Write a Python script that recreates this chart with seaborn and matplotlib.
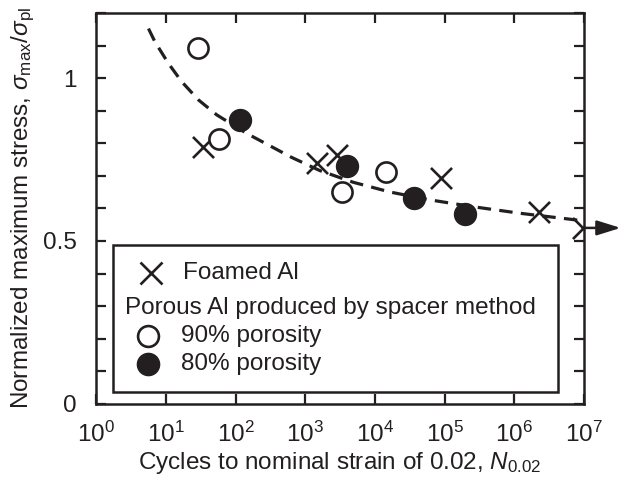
import numpy as np
import pandas as pd
import matplotlib
matplotlib.use("Agg")
import matplotlib.pyplot as plt
import seaborn as sns
from matplotlib.ticker import FixedLocator, MultipleLocator, LogLocator, NullLocator
from matplotlib.patches import Rectangle
from matplotlib.lines import Line2D

# data
foamed_n = [34, 1480, 2880, 89000, 2.28e6, 9.7e6]
foamed_s = [0.788, 0.739, 0.764, 0.693, 0.589, 0.540]

p90_n = [29, 58, 3390, 14500]
p90_s = [1.092, 0.813, 0.650, 0.712]

p80_n = [116, 3980, 36500, 196000]
p80_s = [0.871, 0.730, 0.632, 0.583]

# dashed trend curve
fit_n = [5.64, 7.0, 10.9, 16.9, 29.4, 53.8, 145, 282, 631, 1620, 4900, 16600, 61700,
         257000, 1.2e6, 5.6e6, 9.5e6]
fit_s = [1.152, 1.111, 1.045, 0.989, 0.933, 0.887, 0.830, 0.797, 0.757, 0.716, 0.680,
         0.650, 0.626, 0.605, 0.585, 0.568, 0.562]

sns.set_theme(style="white")
plt.rcParams['font.family'] = ['Liberation Sans', 'DejaVu Sans']
plt.rcParams['mathtext.fontset'] = 'custom'
plt.rcParams['mathtext.rm'] = 'Liberation Sans'
plt.rcParams['mathtext.it'] = 'Liberation Sans:italic'
plt.rcParams['mathtext.bf'] = 'Liberation Sans:bold'

ink = '#231f20'
fs = 17.5
fig = plt.figure(figsize=(6.2, 4.79), dpi=100)
ax = fig.add_axes([0.155, 0.157, 0.787, 0.816])

sns.lineplot(x=fit_n, y=fit_s, ax=ax, color=ink, lw=2.3, linestyle=(0, (4.2, 2.6)), sort=False)
sns.scatterplot(x=foamed_n, y=foamed_s, ax=ax, marker='x', s=230, color=ink, linewidth=1.9, zorder=5)
sns.scatterplot(x=p90_n, y=p90_s, ax=ax, marker='o', s=210, facecolor='white', edgecolor=ink,
                linewidth=1.9, zorder=5)
sns.scatterplot(x=p80_n, y=p80_s, ax=ax, marker='o', s=250, color=ink, edgecolor=ink,
                linewidth=1, zorder=5)

# run-out arrow on the last foamed point
ax.annotate('', xy=(1.075, foamed_s[-1]), xycoords=('axes fraction', 'data'),
            xytext=(foamed_n[-1], foamed_s[-1]), textcoords='data',
            arrowprops=dict(arrowstyle='-|>,head_length=0.8,head_width=0.25', color=ink, lw=1.8,
                            mutation_scale=18, shrinkA=0, shrinkB=0), annotation_clip=False)

ax.set_xscale('log')
ax.set_xlim(1, 1e7)
ax.set_ylim(0, 1.2)
ax.xaxis.set_major_locator(LogLocator(base=10, numticks=10))
ax.xaxis.set_minor_locator(NullLocator())
ax.yaxis.set_major_locator(FixedLocator([0, 0.5, 1]))
ax.yaxis.set_minor_locator(MultipleLocator(0.1))
ax.set_yticklabels(['0', '0.5', '1'])

ax.tick_params(which='both', direction='in', top=True, right=True, bottom=True, left=True,
               length=7, width=1.6, color=ink, labelsize=fs, labelcolor=ink)
ax.tick_params(axis='y', pad=14)
ax.tick_params(axis='x', pad=13)
for sp in ax.spines.values():
    sp.set_linewidth(1.8)
    sp.set_color(ink)

ax.set_xlabel('Cycles to nominal strain of 0.02, $N_{0.02}$', fontsize=fs, color=ink, labelpad=2)
ax.set_ylabel(r'Normalized maximum stress, $\sigma_{\rm max}/\sigma_{\rm pl}$', fontsize=fs,
              color=ink, labelpad=4)

# legend box drawn by hand to keep the subtitle row
ax.add_patch(Rectangle((0.035, 0.031), 0.912, 0.376, transform=ax.transAxes, fill=True,
                       facecolor='white', edgecolor=ink, lw=1.8, zorder=6))
ax.add_line(Line2D([0.112], [0.335], transform=ax.transAxes, marker='x', ms=16, mew=1.9,
                   color=ink, zorder=7))
ax.text(0.178, 0.335, 'Foamed Al', transform=ax.transAxes, fontsize=fs, color=ink,
        va='center', zorder=7)
ax.text(0.060, 0.246, 'Porous Al produced by spacer method', transform=ax.transAxes, fontsize=fs,
        color=ink, va='center', zorder=7)
ax.add_line(Line2D([0.107], [0.174], transform=ax.transAxes, marker='o', ms=15, mew=1.9,
                   mfc='white', mec=ink, zorder=7))
ax.text(0.174, 0.174, '90% porosity', transform=ax.transAxes, fontsize=fs, color=ink,
        va='center', zorder=7)
ax.add_line(Line2D([0.107], [0.102], transform=ax.transAxes, marker='o', ms=16, mew=1,
                   mfc=ink, mec=ink, zorder=7))
ax.text(0.174, 0.102, '80% porosity', transform=ax.transAxes, fontsize=fs, color=ink,
        va='center', zorder=7)

fig.savefig('out.png', dpi=100)
